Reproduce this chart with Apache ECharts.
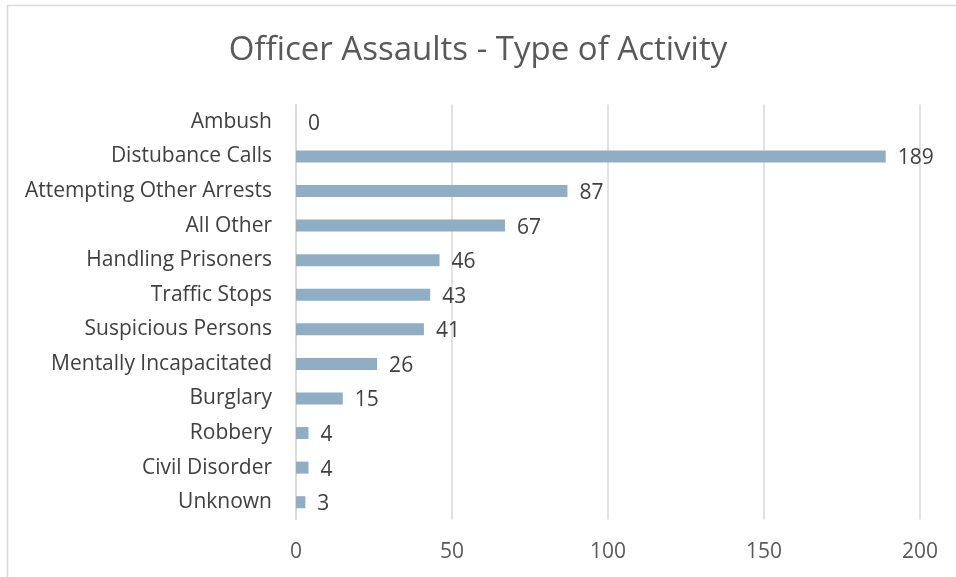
<!DOCTYPE html>
<html><head><meta charset="utf-8">
<script src="https://cdn.jsdelivr.net/npm/echarts@6/dist/echarts.min.js"></script>
<style>html,body{margin:0;padding:0;background:#fff;}#c{width:956px;height:577px;}</style>
</head><body><div id="c"></div>
<script>
var categories = ["Unknown","Civil Disorder","Robbery","Burglary","Mentally Incapacitated","Suspicious Persons","Traffic Stops","Handling Prisoners","All Other","Attempting Other Arrests","Distubance Calls","Ambush"];
var values = [3,4,4,15,26,41,43,46,67,87,189,0];
var xTicks = {min:0, max:200, interval:50};
var font = "'Open Sans', 'Liberation Sans', sans-serif";
var chart = echarts.init(document.getElementById('c'));
chart.setOption({
  animation:false,
  graphic:[{type:'rect', shape:{x:7.5,y:5.5,width:1000,height:1000}, style:{fill:'none',stroke:'#d9d9d9',lineWidth:1.5}, silent:true}],
  title:{text:'Officer Assaults - Type of Activity', left:'center', top:29,
    textStyle:{fontFamily:font, fontWeight:'normal', fontSize:33, color:'#595959'}},
  grid:{left:296, right:36, top:104.5, bottom:57.5, containLabel:false},
  xAxis:{type:'value', min:xTicks.min, max:xTicks.max, interval:xTicks.interval,
    axisLine:{show:false}, axisTick:{show:false},
    splitLine:{lineStyle:{color:'#d9d9d9', width:1.5}},
    axisLabel:{fontFamily:font, fontSize:21, color:'#595959', margin:22}},
  yAxis:{type:'category', data:categories,
    axisLine:{show:true, lineStyle:{color:'#d9d9d9', width:1.5}}, axisTick:{show:false},
    axisLabel:{fontFamily:font, fontSize:21, color:'#404040', margin:24}},
  series:[{type:'bar', data:values, barWidth:12,
    itemStyle:{color:'#8faec4'},
    label:{show:true, position:'right', distance:12, offset:[0,2], fontFamily:font, fontSize:21, color:'#404040'}}]
});
</script></body></html>
